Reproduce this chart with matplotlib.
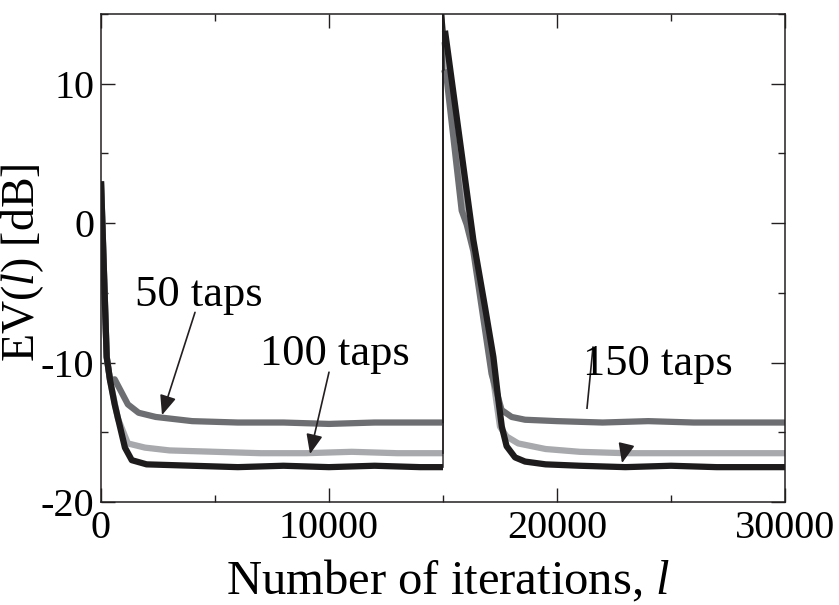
import matplotlib
matplotlib.use("Agg")
import matplotlib.pyplot as plt
from matplotlib.ticker import MultipleLocator

plt.rcParams["font.family"] = ["Liberation Serif", "DejaVu Serif"]
plt.rcParams["mathtext.fontset"] = "custom"
plt.rcParams["mathtext.rm"] = "Liberation Serif"
plt.rcParams["mathtext.it"] = "Liberation Serif:italic"
plt.rcParams["axes.unicode_minus"] = False

# Excess variance EV(l) [dB] of each filter length; the unknown system
# changes at l = 15000, so each curve has two segments.
x_50_a = [0, 250, 400, 600, 1180, 1650, 2400, 4000, 6000, 8000, 10000, 12000, 14000, 15000]
ev_50_a = [3.0, -9.6, -11.3, -11.2, -13.0, -13.6, -13.9, -14.2, -14.3, -14.3, -14.4, -14.3, -14.3, -14.3]
x_50_b = [15000, 15050, 15160, 15820, 16040, 16330, 17130, 17570, 18010, 18600,
          20000, 22000, 24000, 26000, 28000, 30000]
ev_50_b = [15.5, 11.0, 10.4, 0.9, -0.1, -2.0, -10.8, -13.4, -13.9, -14.1,
           -14.2, -14.3, -14.2, -14.3, -14.3, -14.3]

x_100_a = [0, 250, 400, 740, 1180, 1930, 3000, 5000, 7000, 9000, 11000, 13000, 15000]
ev_100_a = [3.0, -9.6, -11.3, -14.0, -15.8, -16.1, -16.3, -16.4, -16.5, -16.5, -16.4, -16.5, -16.5]
x_100_b = [15000, 15060, 15130, 15900, 16150, 16400, 17210, 17500, 17790, 18300,
           19500, 21000, 23000, 25000, 27000, 30000]
ev_100_b = [15.5, 13.0, 12.3, 1.5, -0.4, -2.2, -11.3, -14.6, -15.3, -15.8,
            -16.2, -16.4, -16.5, -16.5, -16.5, -16.5]

x_150_a = [0, 250, 400, 600, 1050, 1350, 2000, 4000, 6000, 8000, 10000, 12000, 14000, 15000]
ev_150_a = [3.0, -9.6, -11.3, -13.0, -16.1, -17.0, -17.3, -17.4, -17.5, -17.4, -17.5, -17.4, -17.5, -17.5]
x_150_b = [15000, 15088, 16330, 16840, 17210, 17430, 17580, 17790, 18160, 18600,
           19500, 21000, 23000, 25000, 27000, 30000]
ev_150_b = [15.5, 13.8, -1.2, -6.0, -9.6, -12.7, -14.6, -16.0, -16.8, -17.1,
            -17.3, -17.4, -17.5, -17.4, -17.5, -17.5]

series = [
    ("100 taps", x_100_a, ev_100_a, x_100_b, ev_100_b, "#a7a9ac"),
    ("50 taps", x_50_a, ev_50_a, x_50_b, ev_50_b, "#6d6e71"),
    ("150 taps", x_150_a, ev_150_a, x_150_b, ev_150_b, "#1e1b1c"),
]

fig = plt.figure(figsize=(8.39, 6.05), dpi=100)
ax = fig.add_axes([101 / 839, 1 - 502 / 605, 684 / 839, 488 / 605])

for name, xa, ya, xb, yb, col in series:
    ax.plot(xa, ya, color=col, lw=4.5, solid_joinstyle="round", solid_capstyle="butt")
    ax.plot(xb[1:], yb[1:], color=col, lw=4.5, solid_joinstyle="round", solid_capstyle="butt")
    # the abrupt change at the switch point, drawn as a single sample step
    ax.plot([xa[-1], xb[0], xb[1]], [ya[-1], yb[0], yb[1]], color="#1e1b1c", lw=1.0)

ax.set_xlim(0, 30000)
ax.set_ylim(-20, 15)
ax.xaxis.set_major_locator(MultipleLocator(10000))
ax.xaxis.set_minor_locator(MultipleLocator(5000))
ax.yaxis.set_major_locator(MultipleLocator(10))
ax.yaxis.set_minor_locator(MultipleLocator(5))
ax.tick_params(which="both", direction="in", top=True, right=True,
               color="#231f20", width=1.0)
ax.tick_params(which="major", length=10)
ax.tick_params(which="minor", length=5)
ax.tick_params(axis="x", which="major", labelsize=29, pad=6)
ax.tick_params(axis="y", which="major", labelsize=29, pad=5)
for sp in ax.spines.values():
    sp.set_linewidth(1.1)
    sp.set_color("#231f20")

ax.set_xlabel(r"Number of iterations, $\mathit{l}$", fontsize=35)
ax.xaxis.set_label_coords(0.507, -0.115)
ax.set_ylabel(r"EV($\mathit{l}$) [dB]", fontsize=33)
ax.yaxis.set_label_coords(-0.08, 0.49)

arrow = dict(arrowstyle="-|>,head_length=0.6,head_width=0.25", color="#231f20",
             lw=1.2, mutation_scale=20, shrinkA=0, shrinkB=0)

ax.text(4298, -5.18, "50 taps", fontsize=32, ha="center", va="center")
ax.annotate("", xy=(2675, -13.77), xytext=(4123, -6.40), arrowprops=arrow)

ax.text(10263, -9.40, "100 taps", fontsize=32, ha="center", va="center")
ax.annotate("", xy=(9167, -16.56), xytext=(10000, -10.69), arrowprops=arrow)

ax.text(24430, -10.12, "150 taps", fontsize=32, ha="center", va="center")
ax.plot([21579, 21316], [-8.90, -13.27], color="#231f20", lw=1.2)
ax.annotate("", xy=(22851, -17.21), xytext=(23026, -16.01), arrowprops=arrow)

fig.savefig("out.png", dpi=100)
